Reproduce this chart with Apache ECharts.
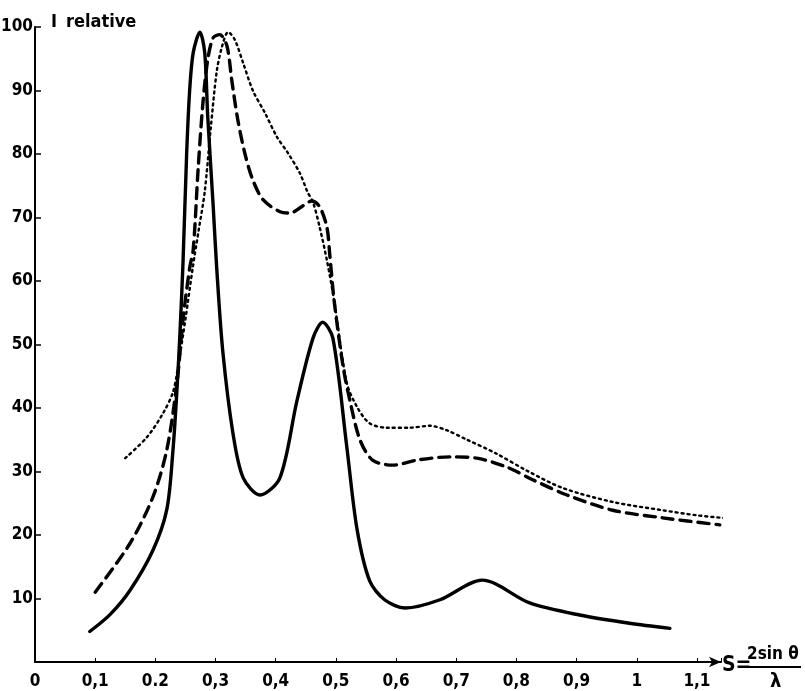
<!DOCTYPE html>
<html>
<head>
<meta charset="utf-8">
<script src="https://cdn.jsdelivr.net/npm/echarts@6/dist/echarts.min.js"></script>
<style>
  html, body { margin: 0; padding: 0; background: #fff; }
  #chart { width: 805px; height: 691px; }
</style>
</head>
<body>
<div id="chart"></div>
<script>
// Relative scattered intensity I against S = 2 sin θ / λ, three samples.
const xTickLabels = ['0', '0,1', '0.2', '0,3', '0,4', '0,5', '0,6', '0,7', '0,8', '0,9', '1', '1,1'];
const yTickLabels = ['', '10', '20', '30', '40', '50', '60', '70', '80', '90', '100'];

// [S, I] pairs
const solidCurve = [
  [0.091, 4.8], [0.125, 7.5], [0.158, 11.3], [0.196, 17.6], [0.219, 24], [0.229, 33],
  [0.236, 43], [0.241, 52], [0.246, 63], [0.252, 80], [0.257, 90], [0.263, 96],
  [0.274, 99.2], [0.282, 96], [0.287, 86], [0.296, 72], [0.302, 62], [0.312, 49],
  [0.329, 36], [0.346, 29], [0.374, 26.3], [0.407, 29], [0.435, 41], [0.462, 51],
  [0.478, 53.5], [0.495, 51], [0.518, 34], [0.535, 21], [0.556, 12.8], [0.581, 9.8],
  [0.615, 8.5], [0.673, 9.8], [0.743, 12.9], [0.822, 9.3], [0.905, 7.4], [0.988, 6.1],
  [1.055, 5.3]
];

const dashedCurve = [
  [0.100, 11], [0.158, 18.7], [0.196, 26], [0.219, 33.4], [0.236, 44], [0.246, 54],
  [0.257, 62], [0.263, 65], [0.271, 77.5], [0.279, 88], [0.287, 94.8], [0.296, 98.3],
  [0.307, 98.8], [0.319, 97], [0.327, 91.6], [0.337, 85.4], [0.349, 80], [0.362, 75.9],
  [0.379, 72.8], [0.407, 70.9], [0.424, 70.7], [0.440, 71.5], [0.460, 72.6], [0.473, 71.7],
  [0.485, 68.5], [0.490, 64], [0.497, 57], [0.512, 46.5], [0.523, 41.3], [0.540, 35],
  [0.561, 31.8], [0.595, 31], [0.635, 31.8], [0.689, 32.3], [0.734, 32.1], [0.784, 30.7],
  [0.827, 28.7], [0.884, 26.3], [0.960, 23.9], [1.043, 22.7], [1.138, 21.6]
];

const dottedCurve = [
  [0.150, 32.1], [0.186, 35.4], [0.213, 39.2], [0.229, 42.4], [0.236, 45.5], [0.250, 54],
  [0.262, 62], [0.272, 68], [0.282, 74], [0.292, 84], [0.302, 93], [0.311, 97],
  [0.321, 99.2], [0.332, 98], [0.346, 94.3], [0.362, 90], [0.382, 86.5], [0.402, 82.7],
  [0.420, 80.2], [0.440, 77], [0.453, 74], [0.462, 72.4], [0.473, 68.5], [0.485, 63.3],
  [0.497, 57], [0.518, 44], [0.535, 40.2], [0.556, 37.6], [0.585, 36.9], [0.623, 36.9],
  [0.656, 37.2], [0.684, 36.5], [0.718, 35], [0.765, 32.9], [0.820, 30], [0.877, 27.4],
  [0.960, 25.2], [1.043, 23.9], [1.100, 23.1], [1.176, 22.4]
];

const FONT = "'DejaVu Sans Condensed', 'DejaVu Sans', sans-serif";
const chart = echarts.init(document.getElementById('chart'), null, { renderer: 'canvas' });

function tickText(list, v) {
  const i = Math.round(v);
  return Math.abs(v - i) < 1e-6 ? (list[i] ?? '') : '';
}

function curve(data, dash, width) {
  return {
    type: 'line',
    data: data,
    smooth: 0.3,
    showSymbol: false,
    clip: false,
    silent: true,
    lineStyle: { color: '#000', width: width, type: dash, cap: 'round', join: 'round' }
  };
}

function label(text, x, y, size, weight) {
  return {
    type: 'text', x: x, y: y,
    style: {
      text: text, fill: '#000', align: 'left', verticalAlign: 'middle',
      font: `${weight || 'bold'} ${size}px ${FONT}`
    }
  };
}

chart.setOption({
  animation: false,
  backgroundColor: '#fff',
  grid: { left: 35, right: 84, top: 27, bottom: 29, outerBoundsMode: 'none', containLabel: false },
  xAxis: {
    type: 'value', min: 0, max: 1.14, interval: 0.1,
    splitLine: { show: false },
    axisLine: { show: true, lineStyle: { color: '#000', width: 2 }, symbol: ['none', 'arrow'], symbolSize: [8, 12] },
    axisTick: { show: true, inside: true, length: 4, lineStyle: { color: '#000', width: 1 } },
    axisLabel: {
      color: '#000', fontFamily: FONT, fontSize: 17, fontWeight: 'bold', margin: 11,
      formatter: v => tickText(xTickLabels, v * 10)
    }
  },
  yAxis: {
    type: 'value', min: 0, max: 100, interval: 10,
    splitLine: { show: false },
    axisLine: { show: true, lineStyle: { color: '#000', width: 2 } },
    axisTick: { show: true, inside: true, length: 6, lineStyle: { color: '#000', width: 1.5 } },
    axisLabel: {
      color: '#000', fontFamily: FONT, fontSize: 17, fontWeight: 'bold', margin: 2,
      formatter: v => tickText(yTickLabels, v / 10)
    }
  },
  series: [
    curve(solidCurve, 'solid', 3.4),
    curve(dashedCurve, [11, 7], 3.4),
    curve(dottedCurve, [2, 4], 2.4)
  ],
  graphic: [
    label('I', 51, 22, 18),
    label('relative', 66, 22, 18),
    label('S=', 722, 666, 21),
    label('2sin θ', 747, 655, 17),
    { type: 'line', shape: { x1: 747, y1: 667, x2: 801, y2: 667 }, style: { stroke: '#000', lineWidth: 2 } },
    label('λ', 770, 682, 20)
  ]
});
</script>
</body>
</html>
